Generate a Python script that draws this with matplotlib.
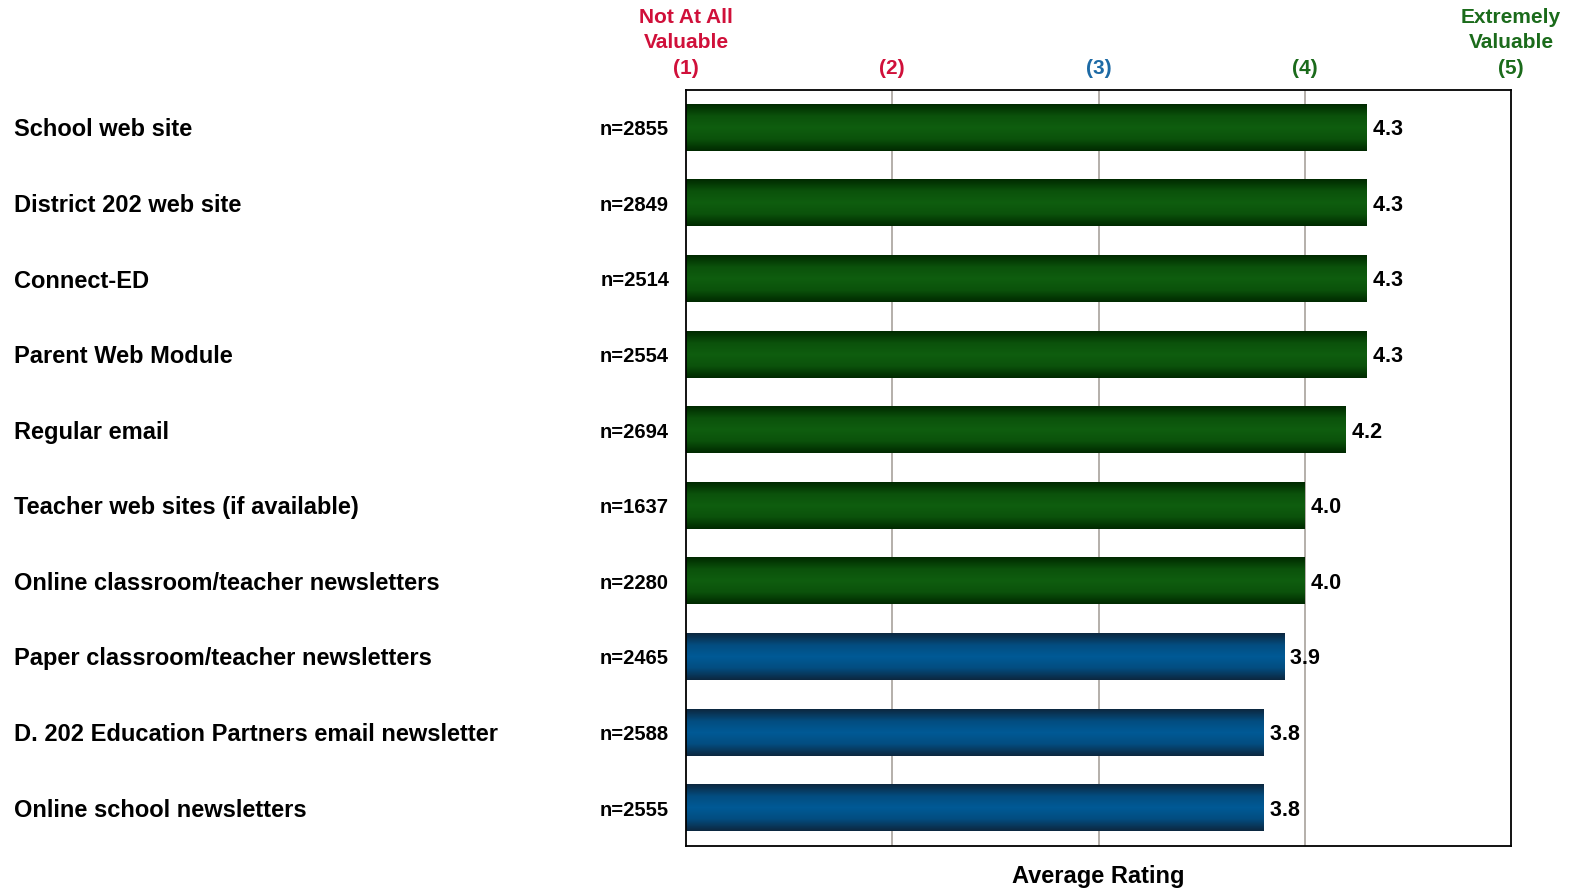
import matplotlib
matplotlib.use("Agg")
import matplotlib.pyplot as plt
import numpy as np
from matplotlib.colors import LinearSegmentedColormap
from matplotlib.transforms import blended_transform_factory, offset_copy

plt.rcParams['font.family'] = ['Liberation Sans', 'DejaVu Sans']
plt.rcParams['font.weight'] = 'bold'

# --- Data ---
categories = [
    "School web site",
    "District 202 web site",
    "Connect-ED",
    "Parent Web Module",
    "Regular email",
    "Teacher web sites (if available)",
    "Online classroom/teacher newsletters",
    "Paper classroom/teacher newsletters",
    "D. 202 Education Partners email newsletter",
    "Online school newsletters",
]
ratings = [4.3, 4.3, 4.3, 4.3, 4.2, 4.0, 4.0, 3.9, 3.8, 3.8]
n_counts = [2855, 2849, 2514, 2554, 2694, 1637, 2280, 2465, 2588, 2555]
bar_group = ["green"] * 7 + ["blue"] * 3

scale_ticks = [1, 2, 3, 4, 5]
scale_labels = ["(1)", "(2)", "(3)", "(4)", "(5)"]

RED = '#d0103a'
BLUE = '#1d6aa5'
GREEN = '#1b6b1b'
tick_colors = [RED, RED, BLUE, GREEN, GREEN]

# vertical gradient: dark edge -> light middle -> dark edge
cmaps = {
    "green": LinearSegmentedColormap.from_list(
        "g", ['#002a00', '#0b520b', '#0f5e0f', '#0b520b', '#002a00']),
    "blue": LinearSegmentedColormap.from_list(
        "b", ['#0c2840', '#034d80', '#005a96', '#034d80', '#0c2840']),
}

W, H = 1574, 890
fig = plt.figure(figsize=(W / 100, H / 100), dpi=100)
ax = fig.add_axes([686 / W, 1 - 846 / H, (1511 - 686) / W, (846 - 90) / H])

# grid lines
for x in scale_ticks[1:-1]:
    ax.axvline(x, color='#a8a29c', lw=1.2, zorder=1)

bar_h = 0.61
grad = np.linspace(0, 1, 64).reshape(-1, 1)
tr_val = offset_copy(ax.transData, fig=fig, x=0, y=-2, units='dots')
for i, (val, grp) in enumerate(zip(ratings, bar_group)):
    ax.imshow(grad, cmap=cmaps[grp], aspect='auto', origin='upper',
              extent=(1, val, i + bar_h / 2, i - bar_h / 2), zorder=2,
              interpolation='bilinear')
    ax.text(val, i, f" {val:.1f}", transform=tr_val, ha='left', va='center',
            fontsize=15.5, fontweight='bold', color='black', zorder=3)

ax.set_xlim(1, 5)
ax.set_ylim(len(categories) - 0.5, -0.5)

ax.set_xticks([])
ax.set_yticks([])
for sp in ax.spines.values():
    sp.set_color('black')
    sp.set_linewidth(1.3)

# category labels (left side of figure)
tr_cat = offset_copy(blended_transform_factory(fig.transFigure, ax.transData),
                     fig=fig, x=0, y=-2, units='dots')
tr_n = offset_copy(ax.get_yaxis_transform(), fig=fig, x=-17, y=-2, units='dots')
for i, (cat, n) in enumerate(zip(categories, n_counts)):
    ax.text(14 / W, i, cat, transform=tr_cat, ha='left', va='center',
            fontsize=17, fontweight='bold')
    ax.text(0, i, f"n={n}", transform=tr_n, ha='right', va='center',
            fontsize=14.5, fontweight='bold')

# scale headers
tr_top = blended_transform_factory(ax.transData, fig.transFigure)
for x, lab, c in zip(scale_ticks, scale_labels, tick_colors):
    ax.text(x, 1 - 68 / H, lab, transform=tr_top, ha='center', va='center',
            fontsize=15, fontweight='bold', color=c)
ax.text(1, 1 - 30 / H, "Not At All\nValuable", transform=tr_top, ha='center',
        va='center', fontsize=15, fontweight='bold', color=RED, linespacing=1.45)
ax.text(5, 1 - 30 / H, "Extremely\nValuable", transform=tr_top, ha='center',
        va='center', fontsize=15, fontweight='bold', color=GREEN, linespacing=1.45)

ax.text(0.5, 1 - 877 / H, "Average Rating",
        transform=blended_transform_factory(ax.transAxes, fig.transFigure),
        ha='center', va='center', fontsize=17, fontweight='bold')

fig.savefig("out.png", dpi=100)
